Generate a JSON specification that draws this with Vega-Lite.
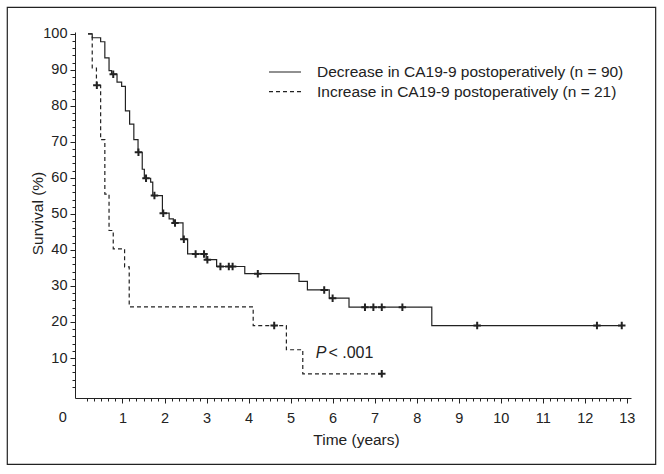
{
  "$schema": "https://vega.github.io/schema/vega-lite/v6.json",
  "width": 556,
  "height": 366,
  "autosize": {"type": "none"},
  "padding": {"left": 75, "top": 32, "right": 33, "bottom": 76},
  "background": "white",
  "config": {
    "view": {"stroke": null},
    "font": "Liberation Sans",
    "axis": {"grid": false, "domainColor": "#222", "tickColor": "#222", "labelColor": "#222", "titleColor": "#222", "labelFontSize": 14.5, "titleFontSize": 15.5, "titleFontWeight": "normal", "labelOverlap": false, "labelFlush": false, "labelBound": false}
  },
  "datasets": {
    "km": [
      {"g": "Decrease in CA19-9 postoperatively (n = 90)", "t": 0.18, "s": 100},
      {"g": "Decrease in CA19-9 postoperatively (n = 90)", "t": 0.28, "s": 98.9},
      {"g": "Decrease in CA19-9 postoperatively (n = 90)", "t": 0.48, "s": 97.8},
      {"g": "Decrease in CA19-9 postoperatively (n = 90)", "t": 0.58, "s": 93.3},
      {"g": "Decrease in CA19-9 postoperatively (n = 90)", "t": 0.68, "s": 89.8},
      {"g": "Decrease in CA19-9 postoperatively (n = 90)", "t": 0.74, "s": 88.8},
      {"g": "Decrease in CA19-9 postoperatively (n = 90)", "t": 0.87, "s": 86.6},
      {"g": "Decrease in CA19-9 postoperatively (n = 90)", "t": 0.98, "s": 85.4},
      {"g": "Decrease in CA19-9 postoperatively (n = 90)", "t": 1.07, "s": 78.6},
      {"g": "Decrease in CA19-9 postoperatively (n = 90)", "t": 1.17, "s": 74.9},
      {"g": "Decrease in CA19-9 postoperatively (n = 90)", "t": 1.27, "s": 70.6},
      {"g": "Decrease in CA19-9 postoperatively (n = 90)", "t": 1.37, "s": 67.1},
      {"g": "Decrease in CA19-9 postoperatively (n = 90)", "t": 1.47, "s": 62.4},
      {"g": "Decrease in CA19-9 postoperatively (n = 90)", "t": 1.52, "s": 59.9},
      {"g": "Decrease in CA19-9 postoperatively (n = 90)", "t": 1.67, "s": 58.8},
      {"g": "Decrease in CA19-9 postoperatively (n = 90)", "t": 1.72, "s": 55.1},
      {"g": "Decrease in CA19-9 postoperatively (n = 90)", "t": 1.95, "s": 50.2},
      {"g": "Decrease in CA19-9 postoperatively (n = 90)", "t": 2.11, "s": 48.6},
      {"g": "Decrease in CA19-9 postoperatively (n = 90)", "t": 2.21, "s": 47.5},
      {"g": "Decrease in CA19-9 postoperatively (n = 90)", "t": 2.44, "s": 43.0},
      {"g": "Decrease in CA19-9 postoperatively (n = 90)", "t": 2.55, "s": 38.9},
      {"g": "Decrease in CA19-9 postoperatively (n = 90)", "t": 2.99, "s": 37.3},
      {"g": "Decrease in CA19-9 postoperatively (n = 90)", "t": 3.24, "s": 35.4},
      {"g": "Decrease in CA19-9 postoperatively (n = 90)", "t": 3.91, "s": 33.4},
      {"g": "Decrease in CA19-9 postoperatively (n = 90)", "t": 5.20, "s": 31.3},
      {"g": "Decrease in CA19-9 postoperatively (n = 90)", "t": 5.40, "s": 28.9},
      {"g": "Decrease in CA19-9 postoperatively (n = 90)", "t": 5.92, "s": 26.6},
      {"g": "Decrease in CA19-9 postoperatively (n = 90)", "t": 6.39, "s": 24.1},
      {"g": "Decrease in CA19-9 postoperatively (n = 90)", "t": 8.36, "s": 19.0},
      {"g": "Decrease in CA19-9 postoperatively (n = 90)", "t": 12.88, "s": 19.0},
      {"g": "Increase in CA19-9 postoperatively (n = 21)", "t": 0.18, "s": 100},
      {"g": "Increase in CA19-9 postoperatively (n = 21)", "t": 0.28, "s": 90.5},
      {"g": "Increase in CA19-9 postoperatively (n = 21)", "t": 0.38, "s": 85.7},
      {"g": "Increase in CA19-9 postoperatively (n = 21)", "t": 0.48, "s": 70.6},
      {"g": "Increase in CA19-9 postoperatively (n = 21)", "t": 0.58, "s": 55.5},
      {"g": "Increase in CA19-9 postoperatively (n = 21)", "t": 0.68, "s": 45.4},
      {"g": "Increase in CA19-9 postoperatively (n = 21)", "t": 0.78, "s": 40.3},
      {"g": "Increase in CA19-9 postoperatively (n = 21)", "t": 1.05, "s": 35.3},
      {"g": "Increase in CA19-9 postoperatively (n = 21)", "t": 1.16, "s": 24.2},
      {"g": "Increase in CA19-9 postoperatively (n = 21)", "t": 4.11, "s": 19.0},
      {"g": "Increase in CA19-9 postoperatively (n = 21)", "t": 4.90, "s": 12.3},
      {"g": "Increase in CA19-9 postoperatively (n = 21)", "t": 5.29, "s": 5.6},
      {"g": "Increase in CA19-9 postoperatively (n = 21)", "t": 7.17, "s": 5.6}
    ],
    "cens": [
      {"g": "Decrease", "t": 0.78, "s": 88.8},
      {"g": "Decrease", "t": 1.38, "s": 67.1},
      {"g": "Decrease", "t": 1.56, "s": 59.9},
      {"g": "Decrease", "t": 1.76, "s": 55.1},
      {"g": "Decrease", "t": 1.97, "s": 50.2},
      {"g": "Decrease", "t": 2.25, "s": 47.5},
      {"g": "Decrease", "t": 2.46, "s": 43.0},
      {"g": "Decrease", "t": 2.74, "s": 38.9},
      {"g": "Decrease", "t": 2.94, "s": 38.9},
      {"g": "Decrease", "t": 3.02, "s": 37.3},
      {"g": "Decrease", "t": 3.33, "s": 35.4},
      {"g": "Decrease", "t": 3.53, "s": 35.4},
      {"g": "Decrease", "t": 3.62, "s": 35.4},
      {"g": "Decrease", "t": 4.22, "s": 33.4},
      {"g": "Decrease", "t": 5.80, "s": 28.9},
      {"g": "Decrease", "t": 6.00, "s": 26.6},
      {"g": "Decrease", "t": 6.77, "s": 24.1},
      {"g": "Decrease", "t": 6.97, "s": 24.1},
      {"g": "Decrease", "t": 7.17, "s": 24.1},
      {"g": "Decrease", "t": 7.66, "s": 24.1},
      {"g": "Decrease", "t": 9.44, "s": 19.0},
      {"g": "Decrease", "t": 12.29, "s": 19.0},
      {"g": "Decrease", "t": 12.88, "s": 19.0},
      {"g": "Increase", "t": 0.39, "s": 85.7},
      {"g": "Increase", "t": 4.61, "s": 19.0},
      {"g": "Increase", "t": 7.17, "s": 5.6}
    ]
  },
  "layer": [
    {
      "data": {"name": "km"},
      "mark": {"type": "line", "interpolate": "step-after", "strokeWidth": 1.2, "color": "#222"},
      "encoding": {
        "x": {
          "field": "t", "type": "quantitative",
          "scale": {"domain": [-0.13, 13.1], "nice": false, "zero": false},
          "axis": {"title": "Time (years)", "values": [0.1667, 0.3333, 0.5, 0.6667, 0.8333, 1, 1.1667, 1.3333, 1.5, 1.6667, 1.8333, 2, 2.1667, 2.3333, 2.5, 2.6667, 2.8333, 3, 3.1667, 3.3333, 3.5, 3.6667, 3.8333, 4, 4.1667, 4.3333, 4.5, 4.6667, 4.8333, 5, 5.1667, 5.3333, 5.5, 5.6667, 5.8333, 6, 6.1667, 6.3333, 6.5, 6.6667, 6.8333, 7, 7.1667, 7.3333, 7.5, 7.6667, 7.8333, 8, 8.1667, 8.3333, 8.5, 8.6667, 8.8333, 9, 9.1667, 9.3333, 9.5, 9.6667, 9.8333, 10, 10.1667, 10.3333, 10.5, 10.6667, 10.8333, 11, 11.1667, 11.3333, 11.5, 11.6667, 11.8333, 12, 12.1667, 12.3333, 12.5, 12.6667, 12.8333, 13], "labelExpr": "datum.value % 1 === 0 ? format(datum.value, 'd') : ''", "tickSize": {"condition": {"test": "datum.value % 1 === 0", "value": 5}, "value": 3}, "labelPadding": 8, "titleX": 281, "titleY": 41, "titleBaseline": "middle", "titleAlign": "center"}
        },
        "y": {
          "field": "s", "type": "quantitative",
          "scale": {"domain": [-1.1, 100.5], "nice": false, "zero": false},
          "axis": {"title": "Survival (%)", "values": [2, 4, 6, 8, 10, 12, 14, 16, 18, 20, 22, 24, 26, 28, 30, 32, 34, 36, 38, 40, 42, 44, 46, 48, 50, 52, 54, 56, 58, 60, 62, 64, 66, 68, 70, 72, 74, 76, 78, 80, 82, 84, 86, 88, 90, 92, 94, 96, 98, 100], "labelExpr": "datum.value % 10 === 0 ? datum.label : ''", "tickSize": {"condition": {"test": "datum.value % 10 === 0", "value": 5}, "value": 3}, "labelPadding": 3, "titleX": -38, "titleY": 181, "titleAngle": -90, "titleBaseline": "middle", "titleAlign": "center"}
        },
        "strokeDash": {
          "field": "g", "type": "nominal",
          "scale": {"domain": ["Decrease in CA19-9 postoperatively (n = 90)", "Increase in CA19-9 postoperatively (n = 21)"], "range": [[1, 0], [4, 3]]},
          "legend": {
            "orient": "none", "legendX": 193, "legendY": 32, "title": null,
            "symbolType": "stroke", "symbolSize": 1024, "symbolStrokeWidth": 1.2, "symbolStrokeColor": "#222",
            "clipHeight": 16,
            "labelFontSize": 15.5, "labelColor": "#222", "labelOffset": 15, "rowPadding": 2.7, "padding": 0, "labelLimit": 400
          }
        }
      }
    },
    {
      "data": {"name": "cens"},
      "mark": {"type": "point", "shape": "M-1,0L1,0M0,-1L0,1", "filled": false, "stroke": "#222", "strokeWidth": 2, "size": 56, "opacity": 1},
      "encoding": {
        "x": {"field": "t", "type": "quantitative", "axis": {"title": "Time (years)", "values": [0.1667, 0.3333, 0.5, 0.6667, 0.8333, 1, 1.1667, 1.3333, 1.5, 1.6667, 1.8333, 2, 2.1667, 2.3333, 2.5, 2.6667, 2.8333, 3, 3.1667, 3.3333, 3.5, 3.6667, 3.8333, 4, 4.1667, 4.3333, 4.5, 4.6667, 4.8333, 5, 5.1667, 5.3333, 5.5, 5.6667, 5.8333, 6, 6.1667, 6.3333, 6.5, 6.6667, 6.8333, 7, 7.1667, 7.3333, 7.5, 7.6667, 7.8333, 8, 8.1667, 8.3333, 8.5, 8.6667, 8.8333, 9, 9.1667, 9.3333, 9.5, 9.6667, 9.8333, 10, 10.1667, 10.3333, 10.5, 10.6667, 10.8333, 11, 11.1667, 11.3333, 11.5, 11.6667, 11.8333, 12, 12.1667, 12.3333, 12.5, 12.6667, 12.8333, 13], "labelExpr": "datum.value % 1 === 0 ? format(datum.value, 'd') : ''", "tickSize": {"condition": {"test": "datum.value % 1 === 0", "value": 5}, "value": 3}, "labelPadding": 8, "titleX": 281, "titleY": 41, "titleBaseline": "middle", "titleAlign": "center"}},
        "y": {"field": "s", "type": "quantitative", "axis": {"title": "Survival (%)", "values": [2, 4, 6, 8, 10, 12, 14, 16, 18, 20, 22, 24, 26, 28, 30, 32, 34, 36, 38, 40, 42, 44, 46, 48, 50, 52, 54, 56, 58, 60, 62, 64, 66, 68, 70, 72, 74, 76, 78, 80, 82, 84, 86, 88, 90, 92, 94, 96, 98, 100], "labelExpr": "datum.value % 10 === 0 ? datum.label : ''", "tickSize": {"condition": {"test": "datum.value % 10 === 0", "value": 5}, "value": 3}, "labelPadding": 3, "titleX": -38, "titleY": 181, "titleAngle": -90, "titleBaseline": "middle", "titleAlign": "center"}}
      }
    },
    {
      "data": {"values": [{}]},
      "mark": {"type": "text", "text": "P", "fontStyle": "italic", "align": "left", "baseline": "middle", "fontSize": 16, "color": "#222"},
      "encoding": {
        "x": {"datum": 5.6, "type": "quantitative", "axis": {"title": "Time (years)", "values": [0.1667, 0.3333, 0.5, 0.6667, 0.8333, 1, 1.1667, 1.3333, 1.5, 1.6667, 1.8333, 2, 2.1667, 2.3333, 2.5, 2.6667, 2.8333, 3, 3.1667, 3.3333, 3.5, 3.6667, 3.8333, 4, 4.1667, 4.3333, 4.5, 4.6667, 4.8333, 5, 5.1667, 5.3333, 5.5, 5.6667, 5.8333, 6, 6.1667, 6.3333, 6.5, 6.6667, 6.8333, 7, 7.1667, 7.3333, 7.5, 7.6667, 7.8333, 8, 8.1667, 8.3333, 8.5, 8.6667, 8.8333, 9, 9.1667, 9.3333, 9.5, 9.6667, 9.8333, 10, 10.1667, 10.3333, 10.5, 10.6667, 10.8333, 11, 11.1667, 11.3333, 11.5, 11.6667, 11.8333, 12, 12.1667, 12.3333, 12.5, 12.6667, 12.8333, 13], "labelExpr": "datum.value % 1 === 0 ? format(datum.value, 'd') : ''", "tickSize": {"condition": {"test": "datum.value % 1 === 0", "value": 5}, "value": 3}, "labelPadding": 8, "titleX": 281, "titleY": 41, "titleBaseline": "middle", "titleAlign": "center"}},
        "y": {"datum": 11.4, "type": "quantitative", "axis": {"title": "Survival (%)", "values": [2, 4, 6, 8, 10, 12, 14, 16, 18, 20, 22, 24, 26, 28, 30, 32, 34, 36, 38, 40, 42, 44, 46, 48, 50, 52, 54, 56, 58, 60, 62, 64, 66, 68, 70, 72, 74, 76, 78, 80, 82, 84, 86, 88, 90, 92, 94, 96, 98, 100], "labelExpr": "datum.value % 10 === 0 ? datum.label : ''", "tickSize": {"condition": {"test": "datum.value % 10 === 0", "value": 5}, "value": 3}, "labelPadding": 3, "titleX": -38, "titleY": 181, "titleAngle": -90, "titleBaseline": "middle", "titleAlign": "center"}}
      }
    },
    {
      "data": {"values": [{}]},
      "mark": {"type": "text", "text": "< .001", "align": "left", "baseline": "middle", "fontSize": 16, "color": "#222"},
      "encoding": {
        "x": {"datum": 5.9, "type": "quantitative", "axis": {"title": "Time (years)", "values": [0.1667, 0.3333, 0.5, 0.6667, 0.8333, 1, 1.1667, 1.3333, 1.5, 1.6667, 1.8333, 2, 2.1667, 2.3333, 2.5, 2.6667, 2.8333, 3, 3.1667, 3.3333, 3.5, 3.6667, 3.8333, 4, 4.1667, 4.3333, 4.5, 4.6667, 4.8333, 5, 5.1667, 5.3333, 5.5, 5.6667, 5.8333, 6, 6.1667, 6.3333, 6.5, 6.6667, 6.8333, 7, 7.1667, 7.3333, 7.5, 7.6667, 7.8333, 8, 8.1667, 8.3333, 8.5, 8.6667, 8.8333, 9, 9.1667, 9.3333, 9.5, 9.6667, 9.8333, 10, 10.1667, 10.3333, 10.5, 10.6667, 10.8333, 11, 11.1667, 11.3333, 11.5, 11.6667, 11.8333, 12, 12.1667, 12.3333, 12.5, 12.6667, 12.8333, 13], "labelExpr": "datum.value % 1 === 0 ? format(datum.value, 'd') : ''", "tickSize": {"condition": {"test": "datum.value % 1 === 0", "value": 5}, "value": 3}, "labelPadding": 8, "titleX": 281, "titleY": 41, "titleBaseline": "middle", "titleAlign": "center"}},
        "y": {"datum": 11.4, "type": "quantitative", "axis": {"title": "Survival (%)", "values": [2, 4, 6, 8, 10, 12, 14, 16, 18, 20, 22, 24, 26, 28, 30, 32, 34, 36, 38, 40, 42, 44, 46, 48, 50, 52, 54, 56, 58, 60, 62, 64, 66, 68, 70, 72, 74, 76, 78, 80, 82, 84, 86, 88, 90, 92, 94, 96, 98, 100], "labelExpr": "datum.value % 10 === 0 ? datum.label : ''", "tickSize": {"condition": {"test": "datum.value % 10 === 0", "value": 5}, "value": 3}, "labelPadding": 3, "titleX": -38, "titleY": 181, "titleAngle": -90, "titleBaseline": "middle", "titleAlign": "center"}}
      }
    },
    {
      "data": {"values": [{}]},
      "mark": {"type": "text", "text": "0", "align": "center", "baseline": "middle", "fontSize": 14.5, "color": "#222", "clip": false},
      "encoding": {
        "x": {"datum": -0.423, "type": "quantitative", "axis": {"title": "Time (years)", "values": [0.1667, 0.3333, 0.5, 0.6667, 0.8333, 1, 1.1667, 1.3333, 1.5, 1.6667, 1.8333, 2, 2.1667, 2.3333, 2.5, 2.6667, 2.8333, 3, 3.1667, 3.3333, 3.5, 3.6667, 3.8333, 4, 4.1667, 4.3333, 4.5, 4.6667, 4.8333, 5, 5.1667, 5.3333, 5.5, 5.6667, 5.8333, 6, 6.1667, 6.3333, 6.5, 6.6667, 6.8333, 7, 7.1667, 7.3333, 7.5, 7.6667, 7.8333, 8, 8.1667, 8.3333, 8.5, 8.6667, 8.8333, 9, 9.1667, 9.3333, 9.5, 9.6667, 9.8333, 10, 10.1667, 10.3333, 10.5, 10.6667, 10.8333, 11, 11.1667, 11.3333, 11.5, 11.6667, 11.8333, 12, 12.1667, 12.3333, 12.5, 12.6667, 12.8333, 13], "labelExpr": "datum.value % 1 === 0 ? format(datum.value, 'd') : ''", "tickSize": {"condition": {"test": "datum.value % 1 === 0", "value": 5}, "value": 3}, "labelPadding": 8, "titleX": 281, "titleY": 41, "titleBaseline": "middle", "titleAlign": "center"}},
        "y": {"datum": -6.65, "type": "quantitative", "axis": {"title": "Survival (%)", "values": [2, 4, 6, 8, 10, 12, 14, 16, 18, 20, 22, 24, 26, 28, 30, 32, 34, 36, 38, 40, 42, 44, 46, 48, 50, 52, 54, 56, 58, 60, 62, 64, 66, 68, 70, 72, 74, 76, 78, 80, 82, 84, 86, 88, 90, 92, 94, 96, 98, 100], "labelExpr": "datum.value % 10 === 0 ? datum.label : ''", "tickSize": {"condition": {"test": "datum.value % 10 === 0", "value": 5}, "value": 3}, "labelPadding": 3, "titleX": -38, "titleY": 181, "titleAngle": -90, "titleBaseline": "middle", "titleAlign": "center"}}
      }
    },
    {
      "data": {"values": [{}]},
      "mark": {"type": "rect", "filled": false, "stroke": "#222", "strokeWidth": 1.2, "clip": false},
      "encoding": {
        "x": {"datum": -1.741, "type": "quantitative", "axis": {"title": "Time (years)", "values": [0.1667, 0.3333, 0.5, 0.6667, 0.8333, 1, 1.1667, 1.3333, 1.5, 1.6667, 1.8333, 2, 2.1667, 2.3333, 2.5, 2.6667, 2.8333, 3, 3.1667, 3.3333, 3.5, 3.6667, 3.8333, 4, 4.1667, 4.3333, 4.5, 4.6667, 4.8333, 5, 5.1667, 5.3333, 5.5, 5.6667, 5.8333, 6, 6.1667, 6.3333, 6.5, 6.6667, 6.8333, 7, 7.1667, 7.3333, 7.5, 7.6667, 7.8333, 8, 8.1667, 8.3333, 8.5, 8.6667, 8.8333, 9, 9.1667, 9.3333, 9.5, 9.6667, 9.8333, 10, 10.1667, 10.3333, 10.5, 10.6667, 10.8333, 11, 11.1667, 11.3333, 11.5, 11.6667, 11.8333, 12, 12.1667, 12.3333, 12.5, 12.6667, 12.8333, 13], "labelExpr": "datum.value % 1 === 0 ? format(datum.value, 'd') : ''", "tickSize": {"condition": {"test": "datum.value % 1 === 0", "value": 5}, "value": 3}, "labelPadding": 8, "titleX": 281, "titleY": 41, "titleBaseline": "middle", "titleAlign": "center"}},
        "x2": {"datum": 13.687},
        "y": {"datum": 107.36, "type": "quantitative", "axis": {"title": "Survival (%)", "values": [2, 4, 6, 8, 10, 12, 14, 16, 18, 20, 22, 24, 26, 28, 30, 32, 34, 36, 38, 40, 42, 44, 46, 48, 50, 52, 54, 56, 58, 60, 62, 64, 66, 68, 70, 72, 74, 76, 78, 80, 82, 84, 86, 88, 90, 92, 94, 96, 98, 100], "labelExpr": "datum.value % 10 === 0 ? datum.label : ''", "tickSize": {"condition": {"test": "datum.value % 10 === 0", "value": 5}, "value": 3}, "labelPadding": 3, "titleX": -38, "titleY": 181, "titleAngle": -90, "titleBaseline": "middle", "titleAlign": "center"}},
        "y2": {"datum": -19.51}
      }
    }
  ]
}
